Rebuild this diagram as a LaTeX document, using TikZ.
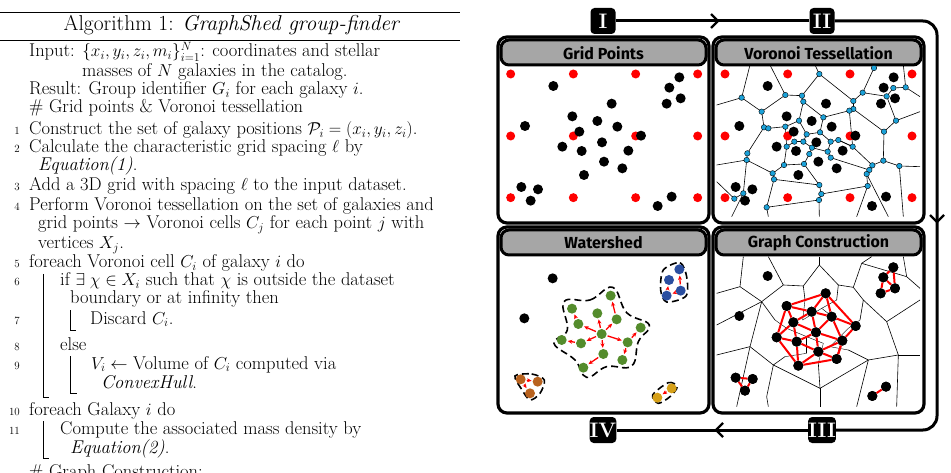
\documentclass[tikz,border=0pt]{standalone}
\usepackage{amsmath}
\usepackage{fontspec}
\newfontfamily\hdrfont{Fira Sans}
\usetikzlibrary{arrows.meta}
\newcommand{\algfont}{\fontsize{18.5}{19}\selectfont}
\newcommand{\numfont}{\fontsize{11}{12}\selectfont}
\definecolor{hdrgray}{RGB}{166,166,166}
\definecolor{vcyan}{RGB}{27,161,216}
\definecolor{wgreen}{RGB}{84,140,44}
\definecolor{wblue}{RGB}{42,78,160}
\definecolor{wbrown}{RGB}{184,98,30}
\definecolor{wyellow}{RGB}{214,160,24}

\begin{document}
\begin{tikzpicture}[x=1pt,y=-1pt]
\tikzset{alg/.style={anchor=base west, inner sep=0pt, font=\algfont},
         lno/.style={anchor=base east, inner sep=0pt, font=\numfont},
         dot/.style={circle, fill=black, minimum size=10pt, inner sep=0pt},
         gridpt/.style={dot, fill=red, minimum size=9pt},
         vert/.style={circle, draw=black, fill=vcyan, minimum size=5.5pt, inner sep=0pt, line width=0.4pt},
         wdot/.style={dot, fill=#1},
         panel/.style={draw, line width=3.2pt, rounded corners=9pt, fill=white},
         hdr/.style={draw, line width=3pt, rounded corners=8pt, fill=hdrgray},
         num/.style={fill=black, rounded corners=4pt, text=white, font=\fontsize{21}{21}\selectfont\bfseries, minimum width=25pt, minimum height=26pt, inner sep=0pt},
         loopline/.style={line width=3pt},
         chev/.style={line width=2.4pt},
         flow/.style={red, line width=1.3pt, -{Stealth[length=4.5pt,width=4pt]}, shorten >=1pt, shorten <=1pt},
         link/.style={red, line width=2pt},
         cell/.style={black, line width=0.6pt},
         basin/.style={black, line width=1.6pt, dash pattern=on 7pt off 4pt}}
\useasboundingbox (0,0) rectangle (951,473);
\clip (0,0) rectangle (951,473);

% algorithm box
\draw[line width=0.8pt] (0,12) -- (460,12);
\node[anchor=base, inner sep=0pt, font=\fontsize{21.5}{22}\selectfont] (title) at (232,31) {Algorithm 1: \textit{GraphShed group-finder}};
\draw[line width=0.5pt] (0,40) -- (460,40);

\node[alg] (in1) at (29,57) {Input: $\{x_i,y_i,z_i,m_i\}_{i=1}^{N}$: coordinates and stellar};
\node[alg] (in2) at (82,77) {masses of $N$ galaxies in the catalog.};
\node[alg] (res) at (29,95) {Result: Group identifier $G_i$ for each galaxy $i$.};
\node[alg] (c1) at (29,113) {\# Grid points \& Voronoi tessellation};
\node[alg] (s1) at (29,135) {Construct the set of galaxy positions $\mathcal{P}_i=(x_i,y_i,z_i)$.};
\node[alg] (s2) at (29,153) {Calculate the characteristic grid spacing $\ell$ by};
\node[alg] (s2b) at (38,171) {\textit{Equation(1)}.};
\node[alg] (s3) at (29,191) {Add a 3D grid with spacing $\ell$ to the input dataset.};
\node[alg] (s4) at (29,211) {Perform Voronoi tessellation on the set of galaxies and};
\node[alg] (s4b) at (38,229) {grid points $\rightarrow$ Voronoi cells $C_j$ for each point $j$ with};
\node[alg] (s4c) at (38,249) {vertices $X_j$.};
\node[alg] (s5) at (29,268) {foreach Voronoi cell $C_i$ of galaxy $i$ do};
\node[alg] (s6) at (60,286) {if $\exists\;\chi\in X_i$ such that $\chi$ is outside the dataset};
\node[alg] (s6b) at (70,304) {boundary or at infinity then};
\node[alg] (s7) at (90,324) {Discard $C_i$.};
\node[alg] (s8) at (60,350) {else};
\node[alg] (s9) at (91,369) {$V_i\leftarrow$ Volume of $C_i$ computed via};
\node[alg] (s9b) at (101,388) {\textit{ConvexHull}.};
\node[alg] (s10) at (29,415) {foreach Galaxy $i$ do};
\node[alg] (s11) at (60,434) {Compute the associated mass density by};
\node[alg] (s11b) at (70,453) {\textit{Equation(2)}.};
\node[alg] (c2) at (29,477) {\# Graph Construction:};
\foreach \n/\y in {1/135,2/153,3/191,4/211,5/268,6/286,7/324,8/350,9/369,10/415,11/434}
  \node[lno] at (20,\y) {\n};
\draw[line width=0.6pt] (43,274) -- (43,397) -- (49,397);
\draw[line width=0.6pt] (70,310) -- (70,330) -- (76,330);
\draw[line width=0.6pt] (70,356) -- (70,393) -- (77,393);
\draw[line width=0.6pt] (43,421) -- (43,458) -- (49,458);

% cycle I -> IV
\node[num] (I) at (603,21) {I};
\node[num] (II) at (822,21) {II};
\node[num] (III) at (822,430) {III};
\node[num] (IV) at (603,430) {IV};
\draw[loopline] (I) -- (II);
\draw[loopline, rounded corners=14pt] (II.east) -| (937,430) -- (III.east);
\draw[loopline] (III) -- (IV);
\draw[chev] (711,14) -- (718,21) -- (711,28);
\draw[chev] (930,215) -- (937,222) -- (944,215);
\draw[chev] (723,423) -- (716,430) -- (723,437);

% panels
\foreach \px/\py/\ttl in {498/37/Grid Points, 713/37/Voronoi Tessellation, 498/227/Watershed, 713/227/Graph Construction}{
  \draw[panel] (\px,\py) rectangle ++(211,186);
  \draw[hdr] (\px+3,\py+3) rectangle ++(205,25);
  \node[font=\hdrfont\fontsize{16}{16}\selectfont\bfseries] at (\px+105.5,\py+16) {\ttl};
}

\begin{scope}[shift={(490,0)}, scale=1/3]
% Voronoi cells (panel II)
\begin{scope}
\clip (680,195) rectangle (1290,650);
\foreach \xa/\ya/\xb/\yb in {840/195/886/285, 780/195/755/293, 988/222/975/195, 1152/204/1150/195, 755/293/680/315,
  1247/262/1240/195, 1247/262/1290/290, 1218/362/1290/335, 1228/498/1290/500, 1228/498/1240/650,
  1133/558/1100/650, 987/600/988/650, 760/580/725/650, 830/622/835/650, 733/596/680/545, 770/480/680/495,
  755/293/815/335, 815/335/822/382, 815/335/886/285, 886/285/936/287, 936/287/940/305, 936/287/988/222,
  988/222/1090/303, 1152/204/1118/278, 1118/278/1090/303, 1118/278/1190/289, 1190/289/1210/264,
  1210/264/1247/262, 1190/289/1218/362, 1218/362/1182/395, 1182/395/1090/327, 1182/395/1180/482,
  1090/303/1090/327, 1090/327/1078/332, 1078/332/1000/352, 1078/332/1088/440, 1000/352/940/305,
  1000/352/990/397, 940/305/927/362, 927/362/886/380, 886/380/835/385, 835/385/822/382, 822/382/772/460,
  886/380/890/440, 927/362/950/403, 950/403/990/397, 950/403/940/425, 940/425/913/425, 913/425/890/440,
  990/397/1022/425, 1022/425/1045/420, 1045/420/1088/440, 1022/425/1013/455, 1013/455/966/443,
  966/443/940/425, 966/443/958/462, 958/462/942/492, 1013/455/1022/473, 1022/473/1138/510,
  890/440/882/495, 882/495/942/492, 882/495/848/520, 848/520/852/538, 848/520/770/480, 772/460/770/480,
  852/538/988/555, 942/492/988/555, 988/555/994/582, 994/582/987/600, 994/582/1133/558, 1133/558/1130/522,
  1130/522/1138/510, 1138/510/1147/496, 1147/496/1180/482, 1180/482/1228/498, 1147/496/1088/440,
  852/538/830/622, 760/580/733/596, 760/580/770/480, 987/600/830/622, 1130/522/1195/650, 1088/440/1045/420}
  \draw[cell] (\xa,\ya) -- (\xb,\yb);
\end{scope}
\foreach \x/\y in {988/222,1152/204,755/293,886/285,936/287,940/305,1118/278,1210/264,1247/262,1190/289,
  1090/303,1090/327,1078/332,815/335,1000/352,927/362,886/380,822/382,835/385,1218/362,1182/395,950/403,
  990/397,913/425,940/425,1022/425,1045/420,890/440,1088/440,966/443,1013/455,958/462,1022/473,772/460,
  770/480,882/495,942/492,1180/482,1228/498,1147/496,1138/510,1130/522,848/520,852/538,1133/558,988/555,
  994/582,987/600,760/580,733/596,830/622}
  \node[vert] at (\x,\y) {};

% galaxies and grid points (panels I and II)
\foreach \dx in {0,643}{
  \foreach \x in {62,250,437,623}
    \foreach \y in {222,408,593}
      \node[gridpt] at (\x+\dx,\y) {};
  \foreach \x/\y in {190/258,568/232,538/263,572/295,530/311,365/311,247/349,322/363,382/380,105/378,
    268/395,453/407,217/440,336/427,275/453,415/452,342/485,397/505,282/525,94/561,144/568,122/602,545/590,503/618}
    \node[dot] at (\x+\dx,\y) {};
}

% watershed (panel IV)
\draw[basin] plot[smooth cycle, tension=0.7] coordinates {(222,905) (300,900) (368,862) (410,938) (478,975)
  (445,1025) (425,1098) (350,1100) (290,1132) (255,1080) (192,1030) (232,990)};
\draw[basin] plot[smooth cycle] coordinates {(520,810) (570,788) (590,830) (588,888) (530,906) (512,870)};
\draw[basin] plot[smooth cycle] coordinates {(75,1128) (125,1122) (163,1140) (150,1180) (120,1200) (95,1168)};
\draw[basin] plot[smooth cycle] coordinates {(488,1185) (535,1148) (562,1160) (540,1190) (505,1210)};
\node[dot] at (188,835) {};
\node[dot] at (103,955) {};
\foreach \n/\x/\y in {a/362/887, b/246/926, c/322/940, d/380/958, e/265/972, f/452/983, g/335/1002,
  h/215/1020, i/273/1030, j/413/1027, k/340/1062, l/397/1080, m/280/1103}
  \node[wdot=wgreen] (g\n) at (\x,\y) {};
\foreach \a/\b in {gg/gc, gg/gd, gg/ge, ge/gb, gg/gi, gi/gh, gg/gj, gj/gf, gd/ga, gg/gk, gk/gm, gj/gl}
  \draw[flow] (\a) -- (\b);
\node[wdot=wblue] (ba) at (568,808) {};
\node[wdot=wblue] (bb) at (537,840) {};
\node[wdot=wblue] (bc) at (572,872) {};
\node[wdot=wblue] (bd) at (530,887) {};
\draw[flow] (bc) -- (ba);
\draw[flow] (bc) -- (bd);
\draw[flow] (bd) -- (bb);
\node[wdot=wbrown] (oa) at (92,1138) {};
\node[wdot=wbrown] (ob) at (143,1145) {};
\node[wdot=wbrown] (oc) at (120,1180) {};
\draw[flow] (oa) -- (ob);
\draw[flow] (oa) -- (oc);
\node[wdot=wyellow] (ya) at (545,1165) {};
\node[wdot=wyellow] (yb) at (502,1193) {};
\draw[flow] (ya) -- (yb);

% graph construction (panel III)
\begin{scope}
\clip (680,770) rectangle (1290,1220);
\foreach \xa/\ya/\xb/\yb in {760/770/750/860, 750/860/680/880, 750/860/815/905, 835/770/880/855, 880/855/815/905,
  880/855/940/858, 940/858/988/795, 988/795/1045/855, 988/795/988/770, 1045/855/1090/862, 1090/862/1115/790,
  1115/790/1145/770, 1115/790/1250/830, 1250/830/1290/865, 1250/830/1240/770, 1090/862/1120/900,
  1120/900/1190/965, 1190/965/1290/900, 1190/965/1225/1065, 1225/1065/1290/1065, 1225/1065/1135/1080,
  1135/1080/1100/1220, 1225/1065/1220/1220, 815/905/780/1040, 680/1065/780/1040, 780/1040/850/1095,
  780/1040/740/1220, 850/1095/830/1190, 830/1190/835/1220, 850/1095/990/1165, 990/1165/990/1220,
  990/1165/1135/1080, 940/858/945/900, 1045/855/1040/900, 1120/900/1110/960, 815/905/855/960,
  1135/1080/1075/1050, 850/1095/885/1070, 990/1165/985/1090, 680/975/815/905}
  \draw[cell] (\xa,\ya) -- (\xb,\yb);
\foreach \xa/\ya/\xb/\yb in {945/900/938/960, 1040/900/995/925, 1110/960/1075/985, 855/960/890/985,
  1075/1050/1020/1040, 885/1070/950/1060, 985/1090/1000/1030, 938/960/995/925, 890/985/950/1010,
  950/1010/1000/1030, 1020/1040/1075/985, 995/925/1040/960, 950/1060/950/1010}
  \draw[black, line width=0.4pt] (\xa,\ya) -- (\xb,\yb);
\end{scope}
\foreach \n/\x/\y in {a/833/828, b/748/948, c/1210/802, d/1180/832, e/1215/865, f/1172/880, g/1007/880,
  h/890/918, i/965/935, j/910/967, k/1025/950, l/1097/978, m/978/997, n/860/1012, o/920/1025, p/1057/1022,
  q/985/1055, r/1040/1077, s/925/1097, t/737/1133, u/788/1137, v/765/1172, w/1188/1160, x/1147/1188}
  \node[dot] (n\n) at (\x,\y) {};
\foreach \a/\b in {g/l, l/p, p/r, r/s, s/n, n/h, h/g, g/i, g/k, h/i, h/j, i/j, i/k, i/m, k/l, k/m, k/p,
  j/n, j/o, j/m, n/o, o/m, o/q, o/s, m/q, m/p, q/p, q/r, q/s, p/r, c/d, d/f, f/e, e/c, d/e, t/u, u/v, v/t, w/x}
  \draw[link] (n\a) -- (n\b);
\foreach \n in {g,h,i,j,k,l,m,n,o,p,q,r,s,c,d,e,f,t,u,v,w,x}
  \node[dot] at (n\n) {};
\end{scope}
\end{tikzpicture}
\end{document}
